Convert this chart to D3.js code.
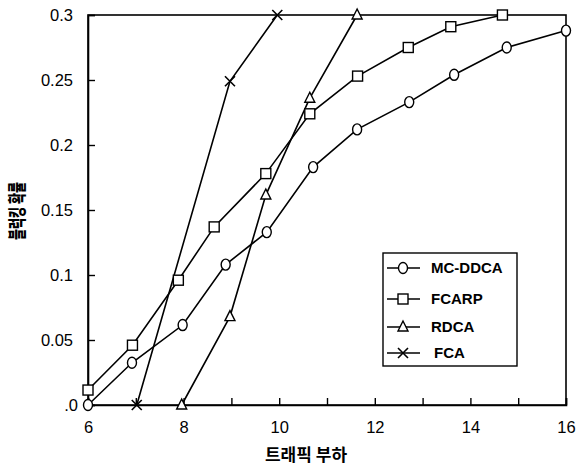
<!DOCTYPE html>
<html><head><meta charset="utf-8">
<script src="https://cdn.jsdelivr.net/npm/d3@7"></script>
<style>body{margin:0;background:#fff}svg{display:block}</style>
</head><body><svg id="c" width="577" height="465"></svg>
<script>
const seriesNames = ["MC-DDCA","FCARP","RDCA","FCA"];
const mcddcaX = [6,6.92,7.98,8.88,9.74,10.71,11.63,12.72,13.66,14.76,16];
const mcddcaY = [0,0.0325,0.0615,0.108,0.133,0.183,0.212,0.233,0.254,0.275,0.288];
const fcarpX = [6,6.93,7.89,8.64,9.72,10.64,11.64,12.7,13.59,14.67];
const fcarpY = [0.0115,0.046,0.096,0.137,0.178,0.224,0.253,0.275,0.291,0.3];
const rdcaX = [7.96,8.97,9.72,10.64,11.63];
const rdcaY = [0,0.068,0.1615,0.236,0.3];
const fcaX = [7.02,8.97,9.96];
const fcaY = [0,0.249,0.3];
const xTicks = [6,8,10,12,14,16];
const xMinor = [7,9,11,13,15];
const yTicks = [0,0.05,0.1,0.15,0.2,0.25,0.3];
const yTickLabels = [".0","0.05","0.1","0.15","0.2","0.25","0.3"];
const xTitle = "트래픽 부하";
const yTitle = "블럭킹 확률";

const svg = d3.select("#c");
const x = d3.scaleLinear().domain([6,16]).range([88,566]);
const y = d3.scaleLinear().domain([0,0.3]).range([405,15]);
const font = "'Liberation Sans', Arial, sans-serif";
const kfont = "'Noto Sans CJK KR', sans-serif";

// frame
svg.append("rect").attr("x",x(6)).attr("y",y(0.3)).attr("width",x(16)-x(6)).attr("height",y(0)-y(0.3))
  .attr("fill","none").attr("stroke","#000").attr("stroke-width",1.6);

const xa = svg.append("g").attr("transform",`translate(0,${y(0)})`)
  .call(d3.axisBottom(x).tickValues(xTicks.concat(xMinor)).tickSize(-7).tickPadding(16)
    .tickFormat(d => xTicks.includes(d) ? d : ""));
const ya = svg.append("g").attr("transform",`translate(${x(6)},0)`)
  .call(d3.axisLeft(y).tickValues(yTicks).tickSize(-7).tickPadding(15)
    .tickFormat((d,i) => yTickLabels[i]));
[xa,ya].forEach(a=>{
  a.select(".domain").attr("stroke","#000").attr("stroke-width",1.6);
  a.selectAll(".tick line").attr("stroke","#000").attr("stroke-width",1.4);
  a.selectAll("text").attr("font-family",font).attr("font-size",16.5).attr("fill","#000");
});
ya.selectAll(".tick").filter(d=>d===0).select("text").attr("dx",5);

svg.append("text").attr("x",306).attr("y",461).attr("text-anchor","middle")
  .attr("font-family",kfont).attr("font-weight","bold").attr("font-size",17).text(xTitle);
svg.append("text").attr("transform","translate(24,211) rotate(-90)").attr("text-anchor","middle")
  .attr("font-family",kfont).attr("font-weight","900").attr("font-size",18)
  .attr("textLength",58).attr("lengthAdjust","spacingAndGlyphs").text(yTitle);

const data = [
  {name:seriesNames[0], xs:mcddcaX, ys:mcddcaY, m:"circle"},
  {name:seriesNames[1], xs:fcarpX, ys:fcarpY, m:"square"},
  {name:seriesNames[2], xs:rdcaX, ys:rdcaY, m:"triangle"},
  {name:seriesNames[3], xs:fcaX, ys:fcaY, m:"cross"}
];
const line = d3.line();
function marker(g, type, px, py){
  if(type==="circle") g.append("ellipse").attr("cx",px).attr("cy",py).attr("rx",4.5).attr("ry",5.5).attr("fill","#fff").attr("stroke","#000").attr("stroke-width",1.4);
  else if(type==="square") g.append("rect").attr("x",px-5).attr("y",py-5).attr("width",10).attr("height",10).attr("fill","#fff").attr("stroke","#000").attr("stroke-width",1.4);
  else if(type==="triangle") g.append("path").attr("d",`M${px},${py-6}L${px+5},${py+4}L${px-5},${py+4}Z`).attr("fill","#fff").attr("stroke","#000").attr("stroke-width",1.4);
  else g.append("path").attr("d",`M${px-5},${py-5}L${px+5},${py+5}M${px+5},${py-5}L${px-5},${py+5}`).attr("stroke","#000").attr("stroke-width",1.6);
}
data.forEach(s=>{
  const pts = s.xs.map((v,i)=>[x(v),y(s.ys[i])]);
  svg.append("path").attr("d",line(pts)).attr("fill","none").attr("stroke","#000").attr("stroke-width",1.6);
});
data.forEach(s=>{
  const g = svg.append("g");
  s.xs.forEach((v,i)=>marker(g,s.m,x(v),y(s.ys[i])));
});

// legend
const lg = svg.append("g");
lg.append("rect").attr("x",383).attr("y",253).attr("width",134).attr("height",113).attr("fill","#fff").attr("stroke","#000").attr("stroke-width",1.4);
const ly = [268,299,327,353];
data.forEach((s,i)=>{
  lg.append("line").attr("x1",387).attr("x2",420).attr("y1",ly[i]).attr("y2",ly[i]).attr("stroke","#000").attr("stroke-width",1.4);
  marker(lg,s.m,403,ly[i]);
  lg.append("text").attr("x",431 + (i===3?3:0)).attr("y",ly[i]+5).attr("font-family",font).attr("font-weight","bold")
    .attr("font-size",15).text(s.name);
});
</script></body></html>
